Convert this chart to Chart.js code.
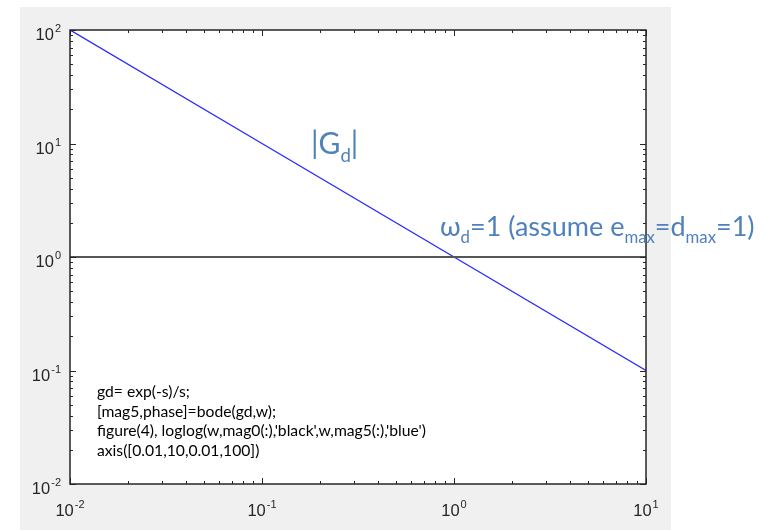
<!DOCTYPE html>
<html>
<head>
<meta charset="utf-8">
<script src="https://cdn.jsdelivr.net/npm/chart.js@4"></script>
<style>
  body { margin: 0; background: #ffffff; }
  #chart { display: block; }
</style>
</head>
<body>
<canvas id="chart" width="765" height="530"></canvas>
<script>
// frequency (rad/s) and magnitudes
var freq = [0.01, 0.1, 1, 10];
var magGd = [100, 10, 1, 0.1];
var magUnity = [1, 1, 1, 1];

// decade ticks
var xTicks = [0.01, 0.1, 1, 10];
var yTicks = [0.01, 0.1, 1, 10, 100];

var codeLines = [
    "gd= exp(-s)/s;",
    "[mag5,phase]=bode(gd,w);",
    "figure(4), loglog(w,mag0(:),'black',w,mag5(:),'blue')",
    "axis([0.01,10,0.01,100])"
];

function toPoints(xs, ys) {
    var pts = [];
    for (var i = 0; i < xs.length; i++) {
        pts.push({ x: xs[i], y: ys[i] });
    }
    return pts;
}

var axisColor = "#262626";
var noteColor = "#4f81bd";

// draws "10" with a superscript exponent, anchored by align ('right' or 'center')
function drawPow(ctx, value, x, baseY, align) {
    var exp = String(Math.round(Math.log10(value)));
    ctx.font = "16.5px 'Liberation Sans', Arial, sans-serif";
    var wBase = ctx.measureText("10").width;
    ctx.font = "11px 'Liberation Sans', Arial, sans-serif";
    var wExp = ctx.measureText(exp).width;
    var total = wBase + wExp + 1;
    var left = align === "right" ? x - total : x - total / 2;
    ctx.fillStyle = axisColor;
    ctx.textAlign = "left";
    ctx.textBaseline = "alphabetic";
    ctx.font = "16.5px 'Liberation Sans', Arial, sans-serif";
    ctx.fillText("10", left, baseY);
    ctx.font = "11px 'Liberation Sans', Arial, sans-serif";
    ctx.fillText(exp, left + wBase + 1, baseY - 8);
}

// draws a run of text pieces, some of them subscripted
function drawRich(ctx, parts, x, y, size) {
    ctx.textAlign = "left";
    ctx.textBaseline = "alphabetic";
    ctx.fillStyle = noteColor;
    var cx = x;
    parts.forEach(function (p) {
        var s = p.sub ? size * 0.62 : size;
        ctx.font = s + "px Lato, 'Open Sans', sans-serif";
        ctx.fillText(p.t, cx, p.sub ? y + size * 0.26 : y);
        cx += ctx.measureText(p.t).width;
    });
}

var framePlugin = {
    id: "frame",
    beforeDraw: function (chart) {
        var ctx = chart.ctx;
        var a = chart.chartArea;
        ctx.save();
        ctx.fillStyle = "#f0f0f0";
        ctx.fillRect(20, 7, 651, 523);
        ctx.fillStyle = "#ffffff";
        ctx.fillRect(a.left, a.top, a.right - a.left, a.bottom - a.top);
        ctx.restore();
    },
    afterDatasetsDraw: function (chart) {
        var ctx = chart.ctx;
        var a = chart.chartArea;
        var xs = chart.scales.x;
        var ys = chart.scales.y;
        ctx.save();
        ctx.strokeStyle = axisColor;
        ctx.lineWidth = 1;
        ctx.beginPath();
        // x ticks, major and minor, inside on top and bottom
        for (var i = 0; i < xTicks.length; i++) {
            for (var m = 1; m <= 9; m++) {
                var v = xTicks[i] * m;
                if (v > xs.max * 1.0001) break;
                var px = Math.round(xs.getPixelForValue(v)) + 0.5;
                var len = m === 1 ? 6 : 3;
                ctx.moveTo(px, a.bottom); ctx.lineTo(px, a.bottom - len);
                ctx.moveTo(px, a.top); ctx.lineTo(px, a.top + len);
            }
        }
        for (var j = 0; j < yTicks.length; j++) {
            for (var n = 1; n <= 9; n++) {
                var w = yTicks[j] * n;
                if (w > ys.max * 1.0001) break;
                var py = Math.round(ys.getPixelForValue(w)) + 0.5;
                var ln = n === 1 ? 6 : 3;
                ctx.moveTo(a.left, py); ctx.lineTo(a.left + ln, py);
                ctx.moveTo(a.right, py); ctx.lineTo(a.right - ln, py);
            }
        }
        ctx.stroke();
        ctx.lineWidth = 1.5;
        ctx.strokeRect(a.left, a.top, a.right - a.left, a.bottom - a.top);

        xTicks.forEach(function (t) {
            drawPow(ctx, t, xs.getPixelForValue(t), a.bottom + 32, "center");
        });
        yTicks.forEach(function (t) {
            drawPow(ctx, t, a.left - 9, ys.getPixelForValue(t) + 10, "right");
        });
        ctx.restore();
    },
    afterDraw: function (chart) {
        var ctx = chart.ctx;
        ctx.save();
        drawRich(ctx, [{ t: "|G" }, { t: "d", sub: true }, { t: "|" }], 311, 154, 30);
        drawRich(ctx, [
            { t: "\u03c9" }, { t: "d", sub: true }, { t: "=1 (assume e" },
            { t: "max", sub: true }, { t: "=d" }, { t: "max", sub: true }, { t: "=1)" }
        ], 440, 236, 27);
        ctx.fillStyle = "#000000";
        ctx.font = "15.7px Lato, 'Open Sans', sans-serif";
        codeLines.forEach(function (line, k) {
            ctx.fillText(line, 97, 397 + k * 19.7);
        });
        ctx.restore();
    }
};

var ctx = document.getElementById("chart").getContext("2d");
var chart = new Chart(ctx, {
    type: "scatter",
    data: {
        datasets: [{
            label: "mag0",
            data: toPoints(freq, magUnity),
            showLine: true,
            borderColor: "#555555",
            borderWidth: 1.8,
            pointRadius: 0
        }, {
            label: "|Gd|",
            data: toPoints(freq, magGd),
            showLine: true,
            borderColor: "#2a2aff",
            borderWidth: 1.4,
            pointRadius: 0
        }]
    },
    plugins: [framePlugin],
    options: {
        responsive: false,
        animation: false,
        layout: { padding: { left: 70, top: 30, right: 119, bottom: 46 } },
        scales: {
            x: { type: "logarithmic", min: 0.01, max: 10, display: false },
            y: { type: "logarithmic", min: 0.01, max: 100, display: false }
        },
        plugins: {
            legend: { display: false },
            tooltip: { enabled: false }
        }
    }
});
</script>
</body>
</html>
